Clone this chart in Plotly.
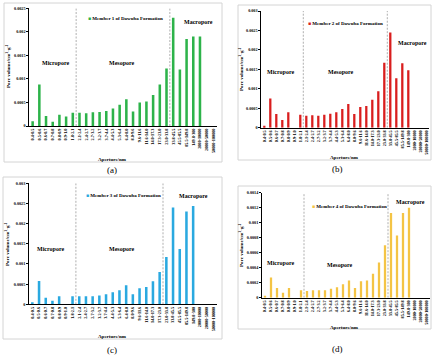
import plotly.graph_objects as go

# ---------------- data ----------------
apertures = ["0.4-0.5", "0.5-0.6", "0.6-0.7", "0.7-0.8", "0.8-0.9", "0.9-1.0", "1.8-2.1",
             "2.1-2.4", "2.4-2.7", "2.7-3.2", "3.2-3.7", "3.7-4.4", "4.4-5.3", "5.3-6.4",
             "6.4-8.0", "8.0-9.6", "9.6-11.6", "11.6-14.0", "14.0-17.3", "17.3-23.0", "23.0-33.8",
             "33.8-45.5", "45.5-85.5", "85.5-149.8", "149.8-300", "2000-10000", "20000-50000",
             "50000-100000"]

member1 = [0.00010, 0.00088, 0.00021, 0.00009, 0.00024, 0.00020, 0.00028,
           0.00028, 0.00027, 0.00029, 0.00030, 0.00032, 0.00037, 0.00045,
           0.00057, 0.00031, 0.00050, 0.00052, 0.00066, 0.00088, 0.00122,
           0.00230, 0.00120, 0.00185, 0.00190, 0.00190, 0, 0]
member2 = [0.00005, 0.00075, 0.00035, 0.00020, 0.00040, 0, 0.00033,
           0.00031, 0.00032, 0.00031, 0.00033, 0.00036, 0.00040, 0.00048,
           0.00061, 0.00035, 0.00053, 0.00056, 0.00072, 0.00094, 0.00167,
           0.00245, 0.00127, 0.00166, 0.00148, 0, 0, 0]
member3 = [0.00003, 0.00058, 0.00016, 0.00009, 0.00020, 0, 0.00020,
           0.00020, 0.00020, 0.00020, 0.00022, 0.00025, 0.00030, 0.00035,
           0.00047, 0.00025, 0.00040, 0.00043, 0.00057, 0.00080, 0.00117,
           0.00240, 0.00137, 0.00230, 0.00244, 0, 0, 0]
member4 = [0.00002, 0.00027, 0.00013, 0.000065, 0.00013, 0, 0.00010,
           0.00009, 0.00010, 0.00010, 0.00010, 0.00012, 0.00014, 0.00018,
           0.00023, 0.00013, 0.00022, 0.00023, 0.00032, 0.00047, 0.00070,
           0.00113, 0.00083, 0.00113, 0.00120, 0, 0, 0]
series_names = ["Member 1 of Dawuba Formation", "Member 2 of Dawuba Formation",
                "Member 3 of Dawuba Formation", "Member 4 of Dawuba Formation"]
panel_labels = ["(a)", "(b)", "(c)", "(d)"]

# ---------------- layout helpers ----------------
W, H = 439, 360
def PX(x): return x / W
def PY(y): return 1 - y / H

SERIF = "Liberation Serif"
panels = [
    dict(vals=member1, color="#2db34a", x=(29.3, 216.7), y=(8.3, 126.0), ymax=0.0025, dt=0.0005,
         b=(6.5, 20.5), box=(4, 3, 222, 162), micro=(55, 63), meso=(122, 63), macro=(198, 22),
         leg=(125, 18), ytitle=(8, 66), xtitle=(112, 159), lab=(112, 170)),
    dict(vals=member2, color="#d91e1e", x=(261.3, 429.3), y=(11.0, 127.7), ymax=0.003, dt=0.0005,
         b=(6.5, 20.5), box=(238, 5, 431, 160), micro=(280, 72), meso=(341, 72), macro=(412, 43),
         leg=(345, 23), ytitle=(241, 69), xtitle=(344, 157), lab=(337, 169)),
    dict(vals=member3, color="#2aa9e0", x=(29.0, 216.6), y=(183.3, 304.3), ymax=0.003, dt=0.0005,
         b=(6.5, 19.5), box=(3, 177, 222, 339), micro=(50, 249), meso=(122, 249), macro=(193, 196),
         leg=(123, 195), ytitle=(7, 244), xtitle=(112, 336), lab=(112, 350)),
    dict(vals=member4, color="#f4c445", x=(262.0, 430.0), y=(192.7, 297.7), ymax=0.0014, dt=0.0002,
         b=(6.5, 20.5), box=(238, 186, 431, 329), micro=(280, 263), meso=(340, 265), macro=(410, 202),
         leg=(349, 207), ytitle=(241, 245), xtitle=(344, 327), lab=(337, 349)),
]

fig = go.Figure()
shapes, annotations = [], []
for i, p in enumerate(panels):
    n = "" if i == 0 else str(i + 1)
    fig.add_trace(go.Bar(x=apertures, y=p["vals"], name=series_names[i],
                         marker=dict(color=p["color"], line=dict(width=0)),
                         width=0.38, xaxis="x" + n, yaxis="y" + n, showlegend=False))
    fig.update_layout(**{
        "xaxis" + n: dict(domain=[PX(p["x"][0]), PX(p["x"][1])], anchor="y" + n,
                          type="category", range=[-0.5, len(apertures) - 0.5],
                          showline=True, linecolor="#000", linewidth=0.8, ticks="",
                          tickangle=-90, showgrid=False, automargin=False,
                          tickfont=dict(family=SERIF, size=4.2, color="#000", weight="bold")),
        "yaxis" + n: dict(domain=[PY(p["y"][1]), PY(p["y"][0])], anchor="x" + n,
                          range=[0, p["ymax"]], dtick=p["dt"], tick0=0, tickformat="~g",
                          showline=True, linecolor="#000", linewidth=0.8, ticks="outside",
                          ticklen=2, tickwidth=0.6, tickcolor="#000", showgrid=False,
                          zeroline=False, automargin=False,
                          tickfont=dict(family=SERIF, size=4.2, color="#000", weight="bold")),
    })
    for bx in p["b"]:
        shapes.append(dict(type="line", xref="x" + n, yref="y" + n, x0=bx, x1=bx,
                           y0=0, y1=p["ymax"],
                           line=dict(color="#8c8c8c", width=0.7, dash="2px,1.5px")))
    bx0, by0, bx1, by1 = p["box"]
    shapes.append(dict(type="rect", xref="paper", yref="paper", x0=PX(bx0), x1=PX(bx1),
                       y0=PY(by1), y1=PY(by0), line=dict(color="#d4d4d4", width=1)))

    def ann(txt, pos, size, angle=0, bold=True):
        annotations.append(dict(text=("<b>%s</b>" % txt) if bold else txt, x=PX(pos[0]), y=PY(pos[1]),
                                xref="paper", yref="paper", showarrow=False, textangle=angle,
                                xanchor="center", yanchor="middle",
                                font=dict(family=SERIF, size=size, color="#000")))
    ann("Micropore", p["micro"], 6)
    ann("Mesopore", p["meso"], 6)
    ann("Macropore", p["macro"], 6)
    annotations.append(dict(
        text='<span style="color:%s">■</span> <b>%s</b>' % (p["color"], series_names[i]),
        x=PX(p["leg"][0]), y=PY(p["leg"][1]), xref="paper", yref="paper", showarrow=False,
        xanchor="center", yanchor="middle", font=dict(family=SERIF, size=5, color="#000")))
    ann("Pore volume/cm<sup>3</sup>·g<sup>-1</sup>", p["ytitle"], 5, angle=-90)
    ann("Aperture/nm", p["xtitle"], 5)
    ann(panel_labels[i], p["lab"], 9, bold=False)

fig.update_layout(width=W, height=H, margin=dict(l=0, r=0, t=0, b=0),
                  paper_bgcolor="#fff", plot_bgcolor="rgba(0,0,0,0)", template="none",
                  showlegend=False, shapes=shapes, annotations=annotations, bargap=0.6)
fig.write_html("out.html", config={"displayModeBar": False},
               post_script="document.body.style.margin='0';document.body.style.overflow='hidden';")
